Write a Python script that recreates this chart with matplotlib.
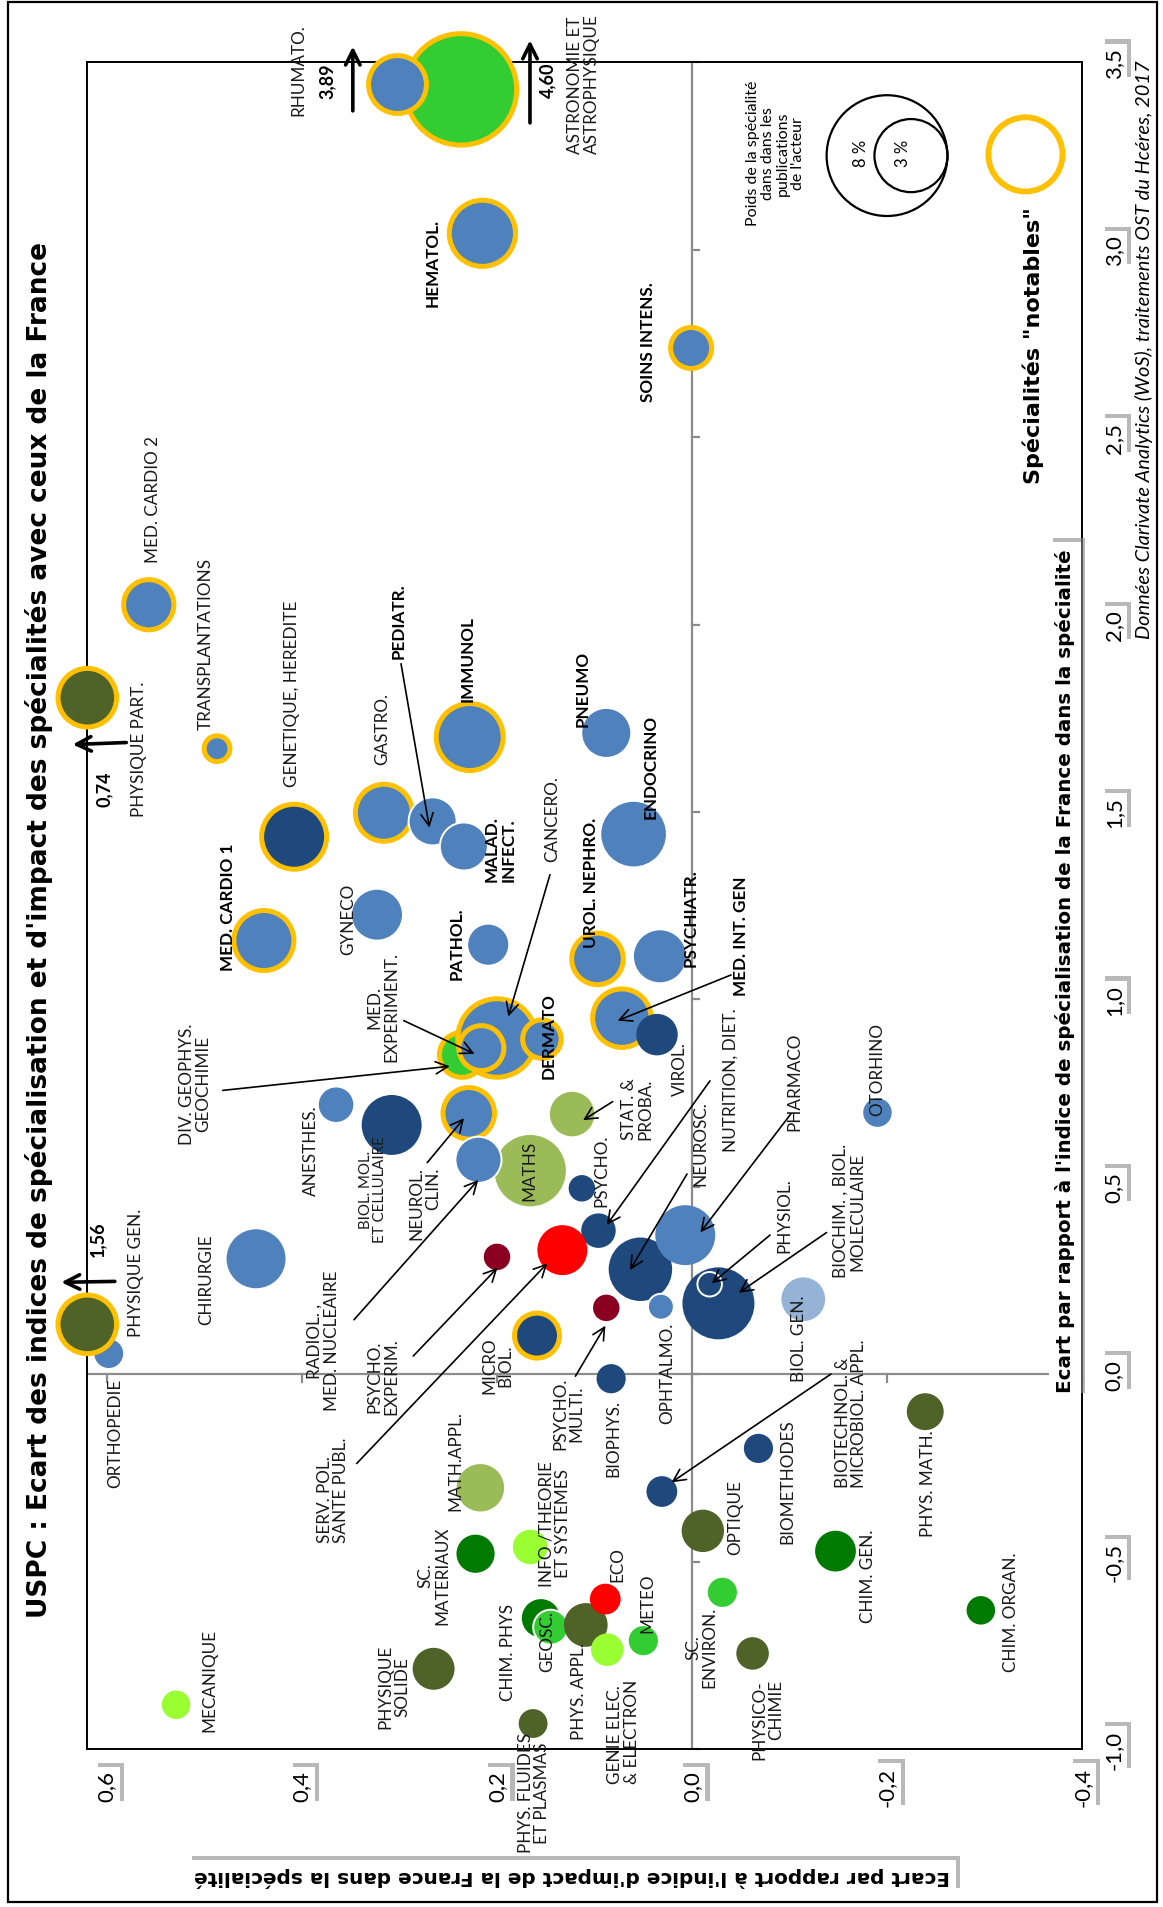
import matplotlib
matplotlib.use("Agg")
import matplotlib.pyplot as plt
import matplotlib.patheffects as pe
from matplotlib.patches import Rectangle
from matplotlib.transforms import blended_transform_factory as btf
import numpy as np

plt.rcParams['font.family'] = ['Lato', 'DejaVu Sans']

# ------------------------------------------------------------------ data
# displayed (clipped) coordinates: impact gap (x of original chart), specialisation gap (y)
names = ["ASTRONOMIE ET ASTROPHYSIQUE", "RHUMATO.", "HEMATOL.", "SOINS INTENS.", "MED. CARDIO 2",
         "TRANSPLANTATIONS", "PHYSIQUE PART.", "GENETIQUE, HEREDITE", "GASTRO.", "PEDIATR.",
         "MALAD. INFECT.", "IMMUNOL", "PNEUMO", "ENDOCRINO", "MED. CARDIO 1", "GYNECO", "PATHOL.",
         "MED. INT. GEN", "UROL. NEPHRO.", "PSYCHIATR.", "VIROL.", "DIV. GEOPHYS. GEOCHIMIE",
         "CANCERO.", "MED. EXPERIMENT.", "DERMATO", "ANESTHES.", "BIOL. MOL. ET CELLULAIRE",
         "NEUROL. CLIN.", "MATHS", "RADIOL., MED. NUCLEAIRE", "STAT. & PROBA.", "PSYCHO.",
         "NUTRITION, DIET.", "SERV. POL. SANTE PUBL.", "PSYCHO. EXPERIM.", "NEUROSC.", "PHARMACO",
         "OPHTALMO.", "BIOCHIM., BIOL. MOLECULAIRE", "PHYSIOL.", "PSYCHO. MULTI.", "MICRO BIOL.",
         "BIOL. GEN.", "CHIRURGIE", "ORTHOPEDIE", "PHYSIQUE GEN.", "BIOPHYS.",
         "BIOTECHNOL. & MICROBIOL. APPL.", "BIOMETHODES", "OTORHINO", "MATH.APPL.", "SC. MATERIAUX",
         "INFO /THEORIE ET SYSTEMES", "CHIM. PHYS", "GEOSC.", "PHYS. APPL.", "ECO",
         "GENIE ELEC. & ELECTRON", "METEO", "SC. ENVIRON.", "PHYSICO-CHIMIE", "OPTIQUE", "CHIM. GEN.",
         "PHYS. MATH.", "CHIM. ORGAN.", "MECANIQUE", "PHYSIQUE SOLIDE", "PHYS. FLUIDES ET PLASMAS"]

impact = [0.237, 0.302, 0.215, 0.001, 0.557,
          0.487, 0.620, 0.408, 0.316, 0.266,
          0.234, 0.228, 0.088, 0.060, 0.439, 0.323, 0.209,
          0.072, 0.097, 0.033, 0.036, 0.236,
          0.200, 0.216, 0.154, 0.365, 0.308,
          0.229, 0.166, 0.219, 0.123, 0.113,
          0.096, 0.133, 0.200, 0.053, 0.007,
          0.032, -0.027, -0.018, 0.088, 0.159,
          -0.114, 0.447, 0.598, 0.620, 0.083,
          0.031, -0.068, -0.190, 0.217, 0.222,
          0.166, 0.155, 0.145, 0.109, 0.089,
          0.087, 0.050, -0.031, -0.062, -0.011, -0.147,
          -0.239, -0.296, 0.529, 0.265, 0.163]

spec = [3.428, 3.441, 3.044, 2.738, 2.053,
        1.669, 1.805, 1.434, 1.498, 1.475,
        1.408, 1.700, 1.711, 1.441, 1.157, 1.226, 1.146,
        0.950, 1.108, 1.115, 0.906, 0.852,
        0.897, 0.870, 0.894, 0.719, 0.665,
        0.696, 0.543, 0.572, 0.694, 0.496,
        0.383, 0.331, 0.313, 0.280, 0.371,
        0.180, 0.189, 0.240, 0.177, 0.103,
        0.200, 0.308, 0.055, 0.133, -0.012,
        -0.313, -0.198, 0.698, -0.303, -0.479,
        -0.461, -0.651, -0.675, -0.669, -0.600,
        -0.735, -0.711, -0.582, -0.745, -0.418, -0.472,
        -0.100, -0.630, -0.882, -0.786, -0.932]

# weight of the speciality in the actor's publications (%)
weight = [7.17, 2.09, 2.68, 1.12, 1.61,
          0.50, 2.14, 2.59, 2.03, 1.32,
          1.32, 2.74, 1.22, 2.21, 2.24, 1.32, 0.85,
          2.13, 1.69, 1.43, 0.91, 1.32,
          3.68, 1.32, 1.00, 0.63, 1.90,
          1.69, 2.70, 1.22, 1.05, 0.37,
          0.63, 1.32, 0.37, 2.13, 1.90,
          0.41, 2.74, 0.37, 0.37, 1.32,
          1.01, 1.84, 0.44, 2.14, 0.45,
          0.50, 0.45, 0.43, 1.19, 0.77,
          0.63, 0.77, 0.72, 1.01, 0.50,
          0.56, 0.45, 0.45, 0.56, 0.95, 0.88,
          0.72, 0.43, 0.43, 0.93, 0.44]

group = ["earth", "med", "med", "med", "med",
         "med", "phys", "bio", "med", "med",
         "med", "med", "med", "med", "med", "med", "med",
         "med", "med", "med", "bio", "earth",
         "med", "med", "med", "med", "bio",
         "med", "math", "med", "math", "bio",
         "bio", "soc", "shs", "bio", "med",
         "med", "bio", "bio", "shs", "bio",
         "biogen", "med", "med", "phys", "bio",
         "bio", "bio", "med", "math", "chem",
         "eng", "chem", "earth", "phys", "soc",
         "eng", "earth", "earth", "phys", "phys", "chem",
         "phys", "chem", "eng", "phys", "phys"]

# 'Y' = notable speciality (yellow ring), 'W' = white outline, '' = none
outline = ["Y", "Y", "Y", "Y", "Y",
           "Y", "Y", "Y", "Y", "W",
           "W", "Y", "", "", "Y", "", "",
           "Y", "Y", "", "", "Y",
           "Y", "Y", "Y", "", "",
           "Y", "", "W", "", "",
           "", "", "", "", "",
           "W", "", "W", "", "Y",
           "", "", "", "Y", "",
           "", "", "", "", "",
           "", "", "W", "", "",
           "", "", "", "", "", "",
           "", "", "", "", ""]

# values beyond the axis range (text shown next to the arrows)
overflow_names = ["RHUMATO.", "ASTRONOMIE ET ASTROPHYSIQUE", "PHYSIQUE PART.", "PHYSIQUE GEN."]
overflow_text = ["3,89", "4,60", "0,74", "1,56"]

impact_ticks = [0.6, 0.4, 0.2, 0.0, -0.2, -0.4]
impact_ticklabels = ["0,6", "0,4", "0,2", "0,0", "-0,2", "-0,4"]
spec_ticks = [-1.0, -0.5, 0.0, 0.5, 1.0, 1.5, 2.0, 2.5, 3.0, 3.5]
spec_ticklabels = ["-1,0", "-0,5", "0,0", "0,5", "1,0", "1,5", "2,0", "2,5", "3,0", "3,5"]

legend_weights = [8, 3]
legend_texts = ["8 %", "3 %"]

# ------------------------------------------------------------------ styles
COLORS = {"med": "#4F81BD", "bio": "#1F497D", "biogen": "#95B3D7", "earth": "#33CC33",
          "phys": "#4F6228", "math": "#9BBB59", "chem": "#007A00", "eng": "#99FF33",
          "soc": "#FF0000", "shs": "#8B0021"}
YELLOW = "#FFC000"
W, H = 1163, 1908
PX2PT = 72.0 / 100.0
R8 = 61.5  # radius in px of an 8 % bubble
BOLDFONT = ['DejaVu Sans']


def radius_px(w):
    return R8 * np.sqrt(np.asarray(w, float) / 8.0)


fig = plt.figure(figsize=(W / 100, H / 100), dpi=100)
fig.add_artist(Rectangle((8 / W, 1 - 1903 / H), (1157 - 8) / W, (1903 - 3) / H,
                         transform=fig.transFigure, fill=False, lw=1.6, ec="black"))

ax = fig.add_axes([87.3 / W, 1 - 1750 / H, (1082.3 - 87.3) / W, (1750 - 63.4) / H])
ax.set_xlim(0.620, -0.40)
ax.set_ylim(-1.0, 3.5)
ax.set_xticks([])
ax.set_yticks([])
for s in ax.spines.values():
    s.set_linewidth(1.4)
    s.set_color("black")

# crossing axes (grey) with small ticks
ax.axvline(0, color="#8C8C8C", lw=1.6, zorder=1)
ax.axhline(0, color="#8C8C8C", lw=1.6, zorder=1)
for t in spec_ticks:
    ax.plot([0, -0.0075], [t, t], color="#8C8C8C", lw=1.6, zorder=1, clip_on=False)
for t in impact_ticks:
    ax.plot([t, t], [0, -0.02], color="#8C8C8C", lw=1.6, zorder=1, clip_on=False)

# ------------------------------------------------------------------ bubbles
r = radius_px(weight)
lw_map = {"Y": 3.6, "W": 1.4, "": 0.0}
ec_map = {"Y": YELLOW, "W": "white", "": "none"}
lws = np.array([lw_map[o] for o in outline])
diam = 2 * r * PX2PT - lws
ax.scatter(impact, spec, s=diam ** 2, c=[COLORS[g] for g in group],
           edgecolors=[ec_map[o] for o in outline], linewidths=lws, zorder=3, clip_on=False)

# ------------------------------------------------------------------ labels
FS = 12.3
# text, impact pos, spec pos, bold, multialign, size
LABELS = [
    ("RHUMATO.", 0.4035, 3.482, False, "center", FS),
    ("ASTRONOMIE ET\nASTROPHYSIQUE", 0.111, 3.445, False, "left", FS),
    ("HEMATOL.", 0.266, 2.967, True, "center", FS),
    ("SOINS INTENS.", 0.0455, 2.756, True, "center", FS),
    ("MED. CARDIO 2", 0.5526, 2.336, False, "center", FS),
    ("TRANSPLANTATIONS", 0.4987, 1.952, False, "center", FS),
    ("PHYSIQUE PART.", 0.5675, 1.669, False, "center", FS),
    ("GENETIQUE, HEREDITE", 0.4106, 1.818, False, "center", FS),
    ("GASTRO.", 0.3172, 1.724, False, "center", FS),
    ("PEDIATR.", 0.3005, 2.012, True, "center", FS),
    ("IMMUNOL", 0.230, 1.912, True, "center", FS),
    ("PNEUMO", 0.1118, 1.830, True, "center", FS),
    ("ENDOCRINO", 0.0421, 1.624, True, "center", FS),
    ("MALAD.\nINFECT.", 0.1969, 1.404, True, "left", FS),
    ("CANCERO.", 0.1429, 1.484, False, "center", FS),
    ("MED. CARDIO 1", 0.4761, 1.248, True, "center", FS),
    ("GYNECO", 0.353, 1.217, False, "center", FS),
    ("PATHOL.", 0.2413, 1.150, True, "center", FS),
    ("UROL. NEPHRO.", 0.1038, 1.314, True, "center", FS),
    ("PSYCHIATR.", 0.0013, 1.221, True, "center", FS),
    ("MED. INT. GEN", -0.0499, 1.170, True, "center", FS),
    ("MED.\nEXPERIMENT.", 0.3172, 0.982, False, "center", FS),
    ("DERMATO", 0.1474, 0.905, True, "center", FS),
    ("DIV. GEOPHYS.\nGEOCHIMIE", 0.5094, 0.777, False, "center", FS),
    ("ANESTHES.", 0.3909, 0.600, False, "center", FS),
    ("BIOL. MOL.\nET CELLULAIRE", 0.3271, 0.495, False, "center", 10.8),
    ("NEUROL.\nCLIN.", 0.274, 0.457, False, "right", FS),
    ("MATHS", 0.1669, 0.545, False, "center", FS),
    ("STAT. &\nPROBA.", 0.0565, 0.7105, False, "left", FS),
    ("PSYCHO.", 0.0929, 0.545, False, "center", FS),
    ("VIROL.", 0.0124, 0.816, False, "center", FS),
    ("NUTRITION, DIET.", -0.0399, 0.788, False, "center", FS),
    ("NEUROSC.", -0.0085, 0.617, False, "center", FS),
    ("PHARMACO", -0.1051, 0.783, False, "center", FS),
    ("OTORHINO", -0.1898, 0.816, False, "center", FS),
    ("PHYSIOL.", -0.0949, 0.427, False, "center", FS),
    ("BIOCHIM. , BIOL.\nMOLECULAIRE", -0.1608, 0.437, False, "center", FS),
    ("BIOL. GEN.", -0.1091, 0.097, False, "center", FS),
    ("OPHTALMO.", 0.025, 0.006, False, "center", FS),
    ("BIOPHYS.", 0.0803, -0.168, False, "center", FS),
    ("PSYCHO.\nMULTI.", 0.1269, -0.102, False, "center", FS),
    ("MICRO\nBIOL.", 0.1995, 0.025, False, "center", FS),
    ("PSYCHO.\nEXPERIM.", 0.3172, -0.005, False, "center", FS),
    ("RADIOL. ,\nMED. NUCLEAIRE", 0.378, 0.091, False, "center", FS),
    ("SERV. POL.\nSANTE PUBL.", 0.3681, -0.307, False, "left", FS),
    ("CHIRURGIE", 0.4976, 0.254, False, "center", FS),
    ("PHYSIQUE GEN.", 0.5702, 0.272, False, "center", FS),
    ("ORTHOPEDIE", 0.5918, -0.156, False, "center", FS),
    ("MECANIQUE", 0.4945, -0.814, False, "center", FS),
    ("PHYSIQUE\nSOLIDE", 0.3054, -0.832, False, "center", FS),
    ("PHYS. FLUIDES\nET PLASMAS", 0.1622, -1.115, False, "center", FS),
    ("SC.\nMATERIAUX", 0.2645, -0.536, False, "center", FS),
    ("MATH.APPL.", 0.2426, -0.229, False, "center", FS),
    ("INFO /THEORIE\nET SYSTEMES", 0.1405, -0.397, False, "center", FS),
    ("CHIM. PHYS", 0.1885, -0.741, False, "center", FS),
    ("GEOSC.", 0.1487, -0.7105, False, "center", FS),
    ("PHYS. APPL.", 0.1164, -0.8435, False, "center", FS),
    ("ECO", 0.0763, -0.506, False, "center", FS),
    ("GENIE ELEC.\n& ELECTRON", 0.0703, -0.952, False, "left", FS),
    ("METEO", 0.0455, -0.608, False, "center", FS),
    ("SC.\nENVIRON.", -0.0096, -0.7265, False, "center", FS),
    ("PHYSICO-\nCHIMIE", -0.0775, -0.920, False, "right", FS),
    ("OPTIQUE", -0.044, -0.379, False, "center", FS),
    ("BIOTECHNOL. &\nMICROBIOL. APPL.", -0.1629, -0.102, False, "left", FS),
    ("BIOMETHODES", -0.098, -0.283, False, "center", FS),
    ("CHIM. GEN.", -0.180, -0.536, False, "center", FS),
    ("PHYS. MATH.", -0.2423, -0.289, False, "center", FS),
    ("CHIM. ORGAN.", -0.3267, -0.6325, False, "center", FS),
]
for txt, x, y, bold, malign, size in LABELS:
    ax.text(x, y, txt, rotation=90, ha="center", va="center", multialignment=malign,
            fontsize=size, fontweight="bold" if bold else "normal",
            color="black" if bold else "#1a1a1a", zorder=5, linespacing=1.05)

# leader arrows: (start, end) in data coordinates
ARROWS = [
    ((0.2984, 1.8956), (0.2693, 1.4583)),   # PEDIATR
    ((0.1457, 1.3328), (0.1884, 0.9543)),   # CANCERO
    ((-0.0399, 1.0652), (0.0763, 0.9434)),  # MED INT GEN
    ((0.2956, 0.9434), (0.2230, 0.8547)),   # MED EXPERIMENT
    ((0.4812, 0.7572), (0.2485, 0.8216)),   # DIV GEOPHYS
    ((0.2715, 0.5644), (0.2338, 0.6830)),   # NEUROL CLIN
    ((0.3466, 0.1453), (0.2192, 0.5182)),   # RADIOL
    ((0.2858, 0.0486), (0.1995, 0.2839)),   # PSYCHO EXPERIM
    ((0.3438, -0.2382), (0.1484, 0.2959)),  # SERV POL
    ((0.1196, -0.0053), (0.0889, 0.1295)),  # PSYCHO MULTI
    ((0.0814, 0.7273), (0.1118, 0.6776)),   # STAT
    ((-0.0183, 0.7826), (0.0875, 0.3980)),  # NUTRITION
    ((0.0052, 0.5342), (0.0637, 0.2778)),   # NEUROSC
    ((-0.1012, 0.6944), (-0.0085, 0.3785)), # PHARMACO
    ((-0.0799, 0.3713), (-0.0201, 0.2423)), # PHYSIOL
    ((-0.1378, 0.3779), (-0.0479, 0.2174)), # BIOCHIM
    ((-0.1424, 0.0005), (0.0211, -0.2885)), # BIOTECHNOL
]
for (x0, y0), (x1, y1) in ARROWS:
    ax.annotate("", xy=(x1, y1), xytext=(x0, y0), annotation_clip=False,
                arrowprops=dict(arrowstyle="->", lw=1.2, color="black", mutation_scale=22,
                                shrinkA=0, shrinkB=0), zorder=6)

# overflow arrows and values
OVF_ARROWS = [((0.3478, 3.3707), (0.3478, 3.5425)), ((0.1662, 3.3387), (0.1662, 3.559)),
              ((0.580, 1.6854), (0.635, 1.680)), ((0.5918, 0.2476), (0.6467, 0.2452))]
OVF_POS = [(0.374, 3.4516), (0.1477, 3.454), (0.6029, 1.5636), (0.6094, 0.3622)]
for ((x0, y0), (x1, y1)), (tx, ty), t in zip(OVF_ARROWS, OVF_POS, overflow_text):
    ax.annotate("", xy=(x1, y1), xytext=(x0, y0), annotation_clip=False,
                arrowprops=dict(arrowstyle="->", lw=2.6, color="black", mutation_scale=26,
                                shrinkA=0, shrinkB=0), zorder=6)
    ax.text(tx, ty, t, rotation=90, ha="center", va="center", fontsize=13,
            fontweight="bold", zorder=6)

# ------------------------------------------------------------------ legend
lx = [-0.1998, -0.2244]
ly = 3.2513
lr = radius_px(legend_weights)
ax.scatter(lx, [ly, ly], s=(2 * lr * PX2PT - 1.6) ** 2, facecolors="none", edgecolors="black",
           linewidths=1.6, zorder=4, clip_on=False)
ax.text(-0.173, 3.26, legend_texts[0], rotation=90, ha="center", va="center", fontsize=12)
ax.text(-0.2167, 3.26, legend_texts[1], rotation=90, ha="center", va="center", fontsize=12)
ax.text(-0.0853, 3.26, "Poids de la spécialité\ndans dans les\npublications\nde l'acteur",
        rotation=90, ha="center", va="center", fontsize=11.5, linespacing=1.1)
rn = 40.0
ax.scatter([-0.3417], [3.2545], s=(2 * rn * PX2PT - 4.2) ** 2, facecolors="none",
           edgecolors=YELLOW, linewidths=4.2, zorder=4)
ax.text(-0.3495, 2.746, 'Spécialités "notables"', rotation=90, ha="center", va="center",
        fontsize=16, fontweight="bold", family=BOLDFONT)

# ------------------------------------------------------------------ ticks labels with shadows
def shadow(t, pad=0.15, off=(3, 3)):
    t.set_bbox(dict(boxstyle=f"square,pad={pad}", fc="white", ec="none"))
    t.get_bbox_patch().set_path_effects([
        pe.SimplePatchShadow(offset=off, shadow_rgbFace="#8a8a8a", alpha=0.6), pe.Normal()])


tr_x = btf(ax.transData, fig.transFigure)
for v, lab in zip(impact_ticks, impact_ticklabels):
    t = ax.text(v, 1 - 1787 / H, lab, transform=tr_x, rotation=90, ha="center", va="center",
                fontsize=16)
    shadow(t)
tr_y = btf(fig.transFigure, ax.transData)
for v, lab in zip(spec_ticks, spec_ticklabels):
    t = ax.text(1113.8 / W, v, lab, transform=tr_y, rotation=90, ha="center", va="center",
                fontsize=16)
    shadow(t)

# axis titles
t = fig.text(572 / W, 1 - 1877 / H, "Ecart par rapport à l'indice d'impact de la France dans la spécialité",
             rotation=180, ha="center", va="center", fontsize=14.4, fontweight="bold",
             family=BOLDFONT)
shadow(t, pad=0.3)
t = ax.text(-0.382, 1.079, "Ecart par rapport à l'indice de spécialisation de la France dans la spécialité",
            rotation=90, ha="center", va="center", fontsize=14.3, fontweight="bold", zorder=7,
            family=BOLDFONT)
shadow(t, pad=0.3)

# title and source
fig.text(39 / W, 1 - 930 / H,
         "USPC : Ecart des indices de spécialisation et d'impact des spécialités avec ceux de la France",
         rotation=90, ha="center", va="center", fontsize=19, fontweight="bold", family=BOLDFONT)
fig.text(1144 / W, 1 - 350 / H,
         "Données Clarivate Analytics (WoS), traitements OST du Hcéres, 2017",
         rotation=90, ha="center", va="center", fontsize=14.4, style="italic")

fig.savefig("out.png", dpi=100)
